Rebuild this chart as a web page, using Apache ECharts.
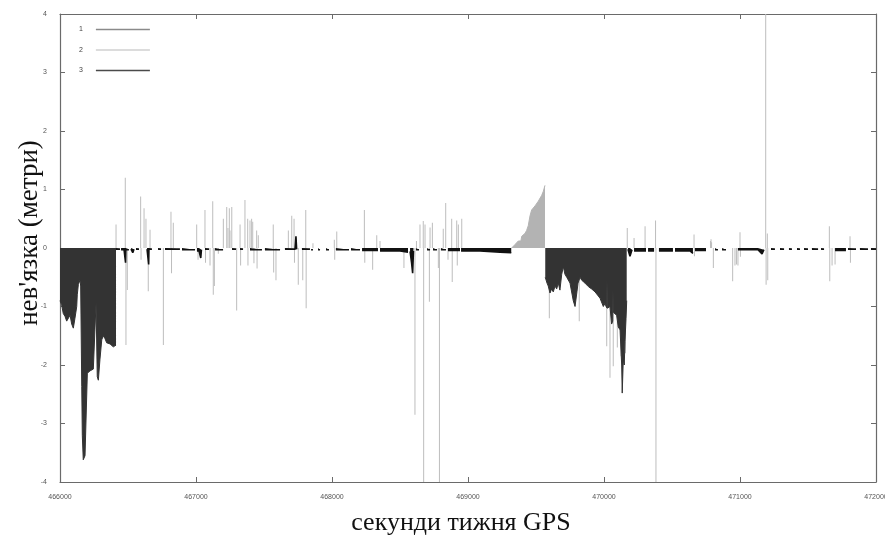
<!DOCTYPE html>
<html><head><meta charset="utf-8">
<script src="https://cdn.jsdelivr.net/npm/echarts/dist/echarts.min.js"></script>
<style>html,body{margin:0;padding:0;background:#fff}#c{width:885px;height:545px}</style>
</head><body><div id="c"></div>
<script>
// ---- axes ----
const xMin = 466000, xMax = 472000, xStep = 1000;
const yMin = -4, yMax = 4, yStep = 1;
const xTitle = 'секунди тижня GPS';
const yTitle = "нев'язка (метри)";
const legendNames = ['1', '2', '3'];

// ---- series 1 : dark filled residual blocks ----
const series1 = [
  [466000,-0.90],[466012,-0.97],[466024,-1.12],[466037,-1.17],[466049,-1.25],[466061,-1.28],
  [466074,-1.15],[466086,-1.30],[466098,-1.37],[466110,-1.20],[466123,-1.00],[466127,-0.80],
  [466135,-0.62],[466147,-0.55],[466152,-0.65],[466160,-2.37],[466164,-3.20],[466171,-3.62],
  [466184,-3.55],[466196,-3.58],[466201,-2.14],[466208,-2.12],[466221,-2.10],[466245,-2.07],
  [466257,-2.05],[466265,-0.94],[466270,-0.94],[466274,-2.20],[466282,-2.26],[466294,-1.90],
  [466307,-1.57],[466318,-1.50],[466331,-1.55],[466343,-1.62],[466368,-1.64],[466392,-1.69],
  [466404,-1.66],[466412,-1.66],
  null,
  [469568,-0.50],[469581,-0.60],[469590,-0.65],[469603,-0.77],[469615,-0.70],[469627,-0.75],
  [469640,-0.65],[469652,-0.70],[469664,-0.60],[469676,-0.72],[469689,-0.45],[469701,-0.32],
  [469713,-0.45],[469726,-0.50],[469750,-0.60],[469774,-0.90],[469787,-1.00],[469794,-1.00],
  [469801,-0.75],[469809,-0.60],[469824,-0.50],[469836,-0.55],[469860,-0.60],[469885,-0.66],
  [469909,-0.70],[469934,-0.75],[469958,-0.82],[469971,-0.86],[469995,-1.00],[470007,-0.95],
  [470019,-1.02],[470022,-0.55],[470025,-1.03],[470032,-1.05],[470044,-1.00],[470056,-1.30],
  [470064,-1.25],[470066,-0.72],[470069,-1.10],[470081,-1.10],[470093,-1.15],[470105,-1.35],
  [470118,-1.40],[470130,-2.00],[470134,-2.48],[470142,-1.90],[470149,-2.00],[470154,-1.60],
  [470162,-1.20],[470167,-0.90]
];

// ---- series 2 : light grey ramp (filled) ----
const series2Ramp = [
  [469321,0.00],[469346,0.06],[469370,0.12],[469382,0.15],[469389,0.12],[469395,0.20],
  [469407,0.22],[469419,0.25],[469431,0.30],[469443,0.38],[469456,0.55],[469468,0.65],
  [469480,0.68],[469493,0.72],[469505,0.75],[469517,0.80],[469529,0.82],[469542,0.90],
  [469554,0.97],[469566,1.07]
];

// ---- series 2 : light grey impulses ----
const series2Spikes = [
  [466412,0.40],[466480,1.20],[466485,-1.66],[466495,-0.72],[466593,0.88],[466596,-0.20],
  [466618,0.68],[466632,0.50],[466649,-0.74],[466662,0.31],[466760,-1.66],[466816,0.62],
  [466820,-0.43],[466833,0.43],[467005,0.40],[467015,-0.20],[467066,0.65],[467070,-0.25],
  [467103,-0.30],[467123,0.80],[467127,-0.80],[467135,-0.65],[467164,-0.10],[467201,0.50],
  [467226,0.70],[467235,0.34],[467245,0.68],[467250,0.30],[467263,0.70],[467299,-1.07],
  [467324,0.40],[467328,-0.30],[467360,0.82],[467380,0.50],[467382,-0.30],[467397,0.47],
  [467409,0.50],[467417,0.45],[467426,-0.26],[467446,0.30],[467449,-0.35],[467458,0.22],
  [467568,0.40],[467571,-0.42],[467588,-0.55],[467679,0.30],[467704,0.55],[467721,0.50],
  [467724,-0.25],[467752,-0.63],[467785,-0.55],[467807,0.65],[467810,-1.03],[467860,0.08],
  [468017,0.14],[468020,-0.20],[468035,0.28],[468238,0.65],[468241,-0.25],[468299,-0.37],
  [468329,0.22],[468353,0.12],[468529,-0.34],[468610,-2.85],[468621,0.12],[468647,0.40],
  [468671,0.46],[468674,-4.00],[468684,0.40],[468716,-0.92],[468721,0.35],[468738,0.43],
  [468782,-0.34],[468790,-4.00],[468818,0.33],[468836,0.77],[468853,-0.20],[468880,0.50],
  [468884,-0.58],[468917,0.47],[468921,-0.30],[468929,0.40],[468954,0.50],
  [469598,-1.20],[469818,-1.25],[470020,-1.68],[470044,-2.22],[470068,-2.02],[470098,-1.70],
  [470125,-1.85],[470139,-1.90],[470158,-1.80],
  [470171,0.34],[470221,0.17],[470302,0.37],[470379,0.47],[470382,-4.00],[470662,0.23],
  [470665,-0.14],[470783,0.12],[470787,0.15],[470791,0.10],[470804,-0.34],[470946,-0.57],
  [470963,-0.30],[470974,-0.28],[470985,-0.30],[471000,0.27],[471003,-0.15],[471189,4.00],
  [471192,-0.63],[471201,0.25],[471204,-0.55],[471657,0.37],[471660,-0.57],[471677,-0.30],
  [471699,-0.28],[471809,0.20],[471812,-0.25]
];

// ---- series 3 : black near-zero residuals ----
const series3 = [
  [466412,-0.02],[466441,-0.02],null,
  [466449,-0.03],[466471,-0.03],[466480,-0.03],[466482,-0.25],[466484,-0.03],[466507,-0.03],null,
  [466522,-0.02],[466535,-0.08],[466544,-0.02],null,
  [466559,-0.02],[466581,-0.02],null,
  [466640,-0.02],[466650,-0.02],[466652,-0.28],[466654,-0.02],[466676,-0.02],null,
  [466721,-0.02],[466743,-0.02],null,
  [466772,-0.02],[466882,-0.02],null,
  [466897,-0.03],[466993,-0.03],null,
  [467007,-0.05],[467022,-0.05],[467035,-0.17],[467040,-0.03],null,
  [467066,-0.02],[467096,-0.02],null,
  [467140,-0.03],[467199,-0.03],null,
  [467265,-0.02],[467294,-0.02],null,
  [467324,-0.02],[467346,-0.02],null,
  [467397,-0.03],[467485,-0.03],null,
  [467507,-0.03],[467618,-0.03],null,
  [467654,-0.02],[467728,-0.02],[467735,0.20],[467740,-0.02],null,
  [467779,-0.02],[467838,-0.02],null,
  [467846,-0.03],[467860,-0.03],null,
  [467897,-0.03],[467912,-0.03],null,
  [467956,-0.03],[467978,-0.03],null,
  [468029,-0.03],[468125,-0.03],null,
  [468140,-0.03],[468206,-0.03],null,
  [468221,-0.04],[468338,-0.04],null,
  [468353,-0.05],[468500,-0.05],[468559,-0.07],null,
  [468574,-0.06],[468585,-0.25],[468593,-0.43],[468599,-0.05],null,
  [468618,-0.03],[468640,-0.03],null,
  [468699,-0.03],[468721,-0.03],null,
  [468743,-0.03],[468772,-0.03],null,
  [468801,-0.03],[468838,-0.03],null,
  [468853,-0.04],[468941,-0.04],null,
  [468949,-0.05],[469088,-0.05],[469235,-0.07],[469318,-0.08],null,
  [470176,-0.02],[470191,-0.14],[470206,-0.03],null,
  [470221,-0.05],[470309,-0.05],null,
  [470324,-0.05],[470368,-0.05],null,
  [470404,-0.05],[470507,-0.05],null,
  [470522,-0.05],[470632,-0.05],[470654,-0.09],null,
  [470669,-0.04],[470750,-0.04],null,
  [470816,-0.03],[470838,-0.03],null,
  [470868,-0.03],[470897,-0.03],null,
  [470985,-0.03],[471132,-0.03],[471162,-0.10],[471176,-0.03],null,
  [471228,-0.02],[471257,-0.02],null,
  [471294,-0.02],[471324,-0.02],null,
  [471360,-0.02],[471382,-0.02],null,
  [471419,-0.02],[471441,-0.02],null,
  [471471,-0.02],[471500,-0.02],null,
  [471529,-0.02],[471574,-0.02],null,
  [471596,-0.02],[471618,-0.02],null,
  [471699,-0.04],[471779,-0.04],null,
  [471794,-0.02],[471853,-0.02],null,
  [471882,-0.02],[471941,-0.02],null,
  [471963,-0.02],[472000,-0.02]
];

const chart = echarts.init(document.getElementById('c'), null, {renderer: 'canvas'});
const axisCol = '#6a6a6a';
const lblStyle = {fontSize: 7, color: '#555', fontFamily: 'Liberation Sans', formatter: v => String(v)};
chart.setOption({
  animation: false,
  backgroundColor: '#fff',
  grid: {left: 60, right: 9, top: 14, bottom: 63, containLabel: false, outerBoundsMode: 'none'},
  legend: {
    orient: 'vertical', left: 74, top: 20, align: 'right',
    icon: 'rect', itemWidth: 54, itemHeight: 1.5, itemGap: 11.5,
    textStyle: {fontSize: 7, color: '#444', fontFamily: 'Liberation Sans', lineHeight: 9, padding: [0, 8, 0, 0]},
    data: [
      {name: legendNames[0], itemStyle: {color: '#8a8a8a'}},
      {name: legendNames[1], itemStyle: {color: '#d0d0d0'}},
      {name: legendNames[2], itemStyle: {color: '#4a4a4a'}}
    ]
  },
  xAxis: [{
    type: 'value', min: xMin, max: xMax, interval: xStep,
    name: xTitle, nameLocation: 'middle', nameGap: 28, nameMoveOverlap: false,
    nameTextStyle: {fontFamily: 'Liberation Serif', fontSize: 26, color: '#111', padding: [0, 14, 0, 0]},
    axisLine: {show: true, onZero: false, lineStyle: {color: axisCol, width: 1.2}},
    axisTick: {show: true, inside: true, length: 5, lineStyle: {color: axisCol}},
    axisLabel: Object.assign({margin: 12, showMaxLabel: true, hideOverlap: false}, lblStyle),
    splitLine: {show: false}
  }, {
    type: 'value', position: 'top', min: xMin, max: xMax, interval: xStep,
    axisLine: {show: true, onZero: false, lineStyle: {color: axisCol, width: 1.2}},
    axisTick: {show: true, inside: true, length: 5, lineStyle: {color: axisCol}},
    axisLabel: {show: false}, splitLine: {show: false}
  }],
  yAxis: [{
    type: 'value', min: yMin, max: yMax, interval: yStep,
    name: yTitle, nameLocation: 'middle', nameGap: 17, nameRotate: 90, nameMoveOverlap: false,
    nameTextStyle: {fontFamily: 'Liberation Serif', fontSize: 27, color: '#111', padding: [0, 0, 0, 30]},
    axisLine: {show: true, onZero: false, lineStyle: {color: axisCol, width: 1.2}},
    axisTick: {show: true, inside: true, length: 5, lineStyle: {color: axisCol}},
    axisLabel: Object.assign({margin: 13}, lblStyle),
    splitLine: {show: false}
  }, {
    type: 'value', position: 'right', min: yMin, max: yMax, interval: yStep,
    axisLine: {show: true, onZero: false, lineStyle: {color: axisCol, width: 1.2}},
    axisTick: {show: true, inside: true, length: 5, lineStyle: {color: axisCol}},
    axisLabel: {show: false}, splitLine: {show: false}
  }],
  series: [
    {
      name: legendNames[1], type: 'bar', data: series2Spikes, z: 2,
      barWidth: 1, barGap: '-100%',
      itemStyle: {color: '#bdbdbd'}
    },
    {
      name: legendNames[0], type: 'line', data: series1, z: 3,
      showSymbol: false, symbol: 'none', connectNulls: false,
      lineStyle: {color: '#333', width: 1}, itemStyle: {color: '#333'},
      areaStyle: {color: '#333', opacity: 1}
    },
    {
      name: legendNames[1], type: 'line', data: series2Ramp, z: 3,
      showSymbol: false, symbol: 'none',
      lineStyle: {color: '#b3b3b3', width: 1}, itemStyle: {color: '#b3b3b3'},
      areaStyle: {color: '#b3b3b3', opacity: 1}
    },
    {
      name: legendNames[2], type: 'line', data: series3, z: 5,
      showSymbol: false, symbol: 'none', connectNulls: false,
      lineStyle: {color: '#111', width: 1.6}, itemStyle: {color: '#111'},
      areaStyle: {color: '#111', opacity: 1}
    }
  ]
});
</script>
</body></html>
